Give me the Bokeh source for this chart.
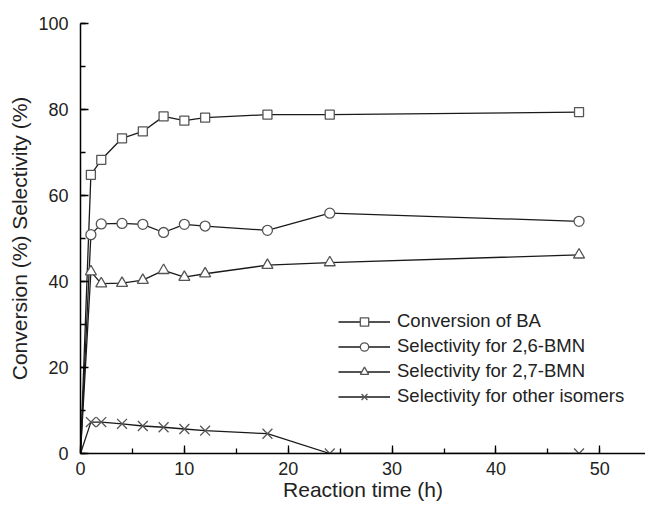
from bokeh.plotting import figure
from bokeh.models import Range1d, SingleIntervalTicker, Legend, LegendItem
from bokeh.embed import file_html
from bokeh.resources import INLINE

# ---- data ----
time_h = [0, 1, 2, 4, 6, 8, 10, 12, 18, 24, 48]
conversion_ba = [0, 64.8, 68.3, 73.3, 74.9, 78.4, 77.4, 78.1, 78.8, 78.8, 79.4]
sel_26_bmn = [0, 50.9, 53.4, 53.5, 53.3, 51.4, 53.3, 52.9, 51.9, 55.9, 54.0]
sel_27_bmn = [0, 42.3, 39.5, 39.6, 40.3, 42.6, 41.0, 41.8, 43.8, 44.4, 46.2]
sel_other = [0, 7.3, 7.3, 6.9, 6.4, 6.1, 5.7, 5.3, 4.6, 0.0, 0.0]

series_names = ["Conversion of BA", "Selectivity for 2,6-BMN",
                "Selectivity for 2,7-BMN", "Selectivity for other isomers"]
x_ticks_interval = 10
y_ticks_interval = 20

FONT = "Liberation Sans"
LINE_C = "#1a1a1a"
MARK_C = "#555555"

p = figure(width=645, height=505, output_backend="svg", toolbar_location=None,
           x_range=Range1d(0, 54.4), y_range=Range1d(0, 100),
           min_border_left=80, min_border_top=23, min_border_right=0,
           min_border_bottom=52)
p.outline_line_color = None
p.grid.grid_line_color = None
p.background_fill_color = "white"
p.border_fill_color = "white"

for ax in (p.xaxis[0], p.yaxis[0]):
    ax.axis_line_color = "black"
    ax.axis_line_width = 1.5
    ax.major_tick_line_color = "black"
    ax.minor_tick_line_color = "black"
    ax.major_tick_line_width = 1.3
    ax.minor_tick_line_width = 1.3
    ax.major_tick_in = 8
    ax.major_tick_out = 0
    ax.minor_tick_in = 5
    ax.minor_tick_out = 0
    ax.major_label_text_font = FONT
    ax.major_label_text_font_size = "18px"
    ax.major_label_text_color = "#222222"
    ax.axis_label_text_font = FONT
    ax.axis_label_text_font_size = "21px"
    ax.axis_label_text_font_style = "normal"
    ax.axis_label_text_color = "#222222"

p.xaxis[0].ticker = SingleIntervalTicker(interval=x_ticks_interval, num_minor_ticks=2)
p.yaxis[0].ticker = SingleIntervalTicker(interval=y_ticks_interval, num_minor_ticks=2)
p.xaxis[0].axis_label = "Reaction time (h)"
p.yaxis[0].axis_label = "Conversion (%) Selectivity (%)"
p.xaxis[0].major_label_standoff = 8
p.xaxis[0].axis_label_standoff = 0
p.yaxis[0].major_label_standoff = 12
p.yaxis[0].axis_label_standoff = 4

items = []
specs = [
    (conversion_ba, "square", 9),
    (sel_26_bmn, "circle", 10),
    (sel_27_bmn, "triangle", 11),
    (sel_other, "x", 14),
]
for name, (vals, marker, size) in zip(series_names, specs):
    ln = p.line(time_h, vals, line_color=LINE_C, line_width=1.3)
    sc = p.scatter(time_h[1:], vals[1:], marker=marker, size=size,
                   line_color=MARK_C, line_width=1.3, fill_color="white")
    items.append(LegendItem(label=name, renderers=[ln, sc]))

legend = Legend(items=items, location=(258, 46))
legend.border_line_color = None
legend.background_fill_alpha = 0
legend.padding = 0
legend.margin = 0
legend.spacing = 3
legend.glyph_width = 52
legend.glyph_height = 21
legend.label_height = 21
legend.label_standoff = 7
legend.label_text_font = FONT
legend.label_text_font_size = "18.5px"
legend.label_text_color = "#222222"
p.add_layout(legend, "center")

open("out.html", "w").write(file_html(p, INLINE))
